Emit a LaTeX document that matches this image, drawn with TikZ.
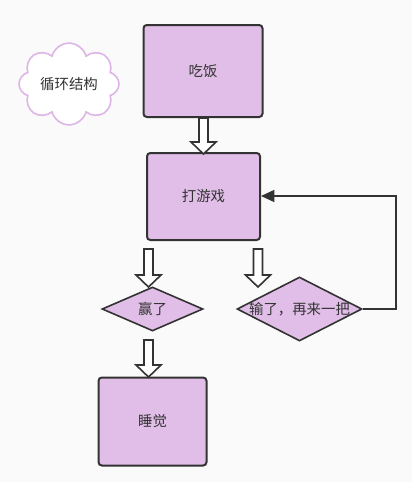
\documentclass[tikz,border=0pt]{standalone}
\usepackage{fontspec}
\setmainfont{Noto Sans CJK SC}
\usetikzlibrary{shapes.geometric,shapes.symbols,arrows.meta}
\definecolor{boxfill}{HTML}{E1BEE7}
\definecolor{edge}{HTML}{333333}
\definecolor{cloudedge}{HTML}{DDB5E6}
\definecolor{txt}{HTML}{333333}
\definecolor{bg}{HTML}{FAFAFA}
\newcommand{\hollowarrow}[3]{%
  \draw[hollow] (#1-4.5,#2) -- (#1+4.5,#2) -- (#1+4.5,#3-12) -- (#1+12.5,#3-12) -- (#1,#3) -- (#1-12.5,#3-12) -- (#1-4.5,#3-12) -- cycle;}
\begin{document}
\begin{tikzpicture}[x=0.75pt,y=-0.75pt,
  every node/.style={font=\fontsize{10.8}{13}\selectfont, text=txt},
  procbox/.style={draw=edge, line width=1.5pt, fill=boxfill, rounded corners=2.5pt, inner sep=0pt},
  decision/.style={draw=edge, line width=1.2pt, fill=boxfill, diamond, inner sep=0pt},
  hollow/.style={draw=edge, line width=1.2pt, fill=white, line join=miter},
  feedback/.style={draw=edge, line width=1.2pt, -{Triangle[length=10pt,width=9pt]}}]
\fill[bg] (0,0) rectangle (412,482);
\useasboundingbox (0,0) rectangle (412,482);
\node[cloud, cloud puffs=8, aspect=1.3, draw=cloudedge, line width=1.2pt, fill=white,
      minimum width=100*0.75pt, minimum height=78*0.75pt, inner sep=0pt] (cl) at (69,84) {循环结构};
\node[procbox, minimum width=119*0.75pt, minimum height=92*0.75pt] (eat) at (203,71) {吃饭};
\node[procbox, minimum width=113*0.75pt, minimum height=87*0.75pt] (game) at (203.5,196.5) {打游戏};
\node[decision, minimum width=101*0.75pt, minimum height=44*0.75pt] (win) at (152.5,309) {};
\node at (152.5,309) {赢了};
\node[decision, minimum width=125*0.75pt, minimum height=64*0.75pt] (lose) at (299.5,309) {};
\node at (299.5,309) {输了，再来一把};
\node[procbox, minimum width=108*0.75pt, minimum height=88*0.75pt] (sleep) at (152.5,421.5) {睡觉};
\hollowarrow{203.5}{118}{154}
\hollowarrow{148.5}{249}{287}
\hollowarrow{258}{249}{287}
\hollowarrow{148.5}{340}{377}
\coordinate (corner) at (396,196);
\draw[feedback] (lose.east) -| (corner) -- (game.east |- corner);
\end{tikzpicture}
\end{document}
